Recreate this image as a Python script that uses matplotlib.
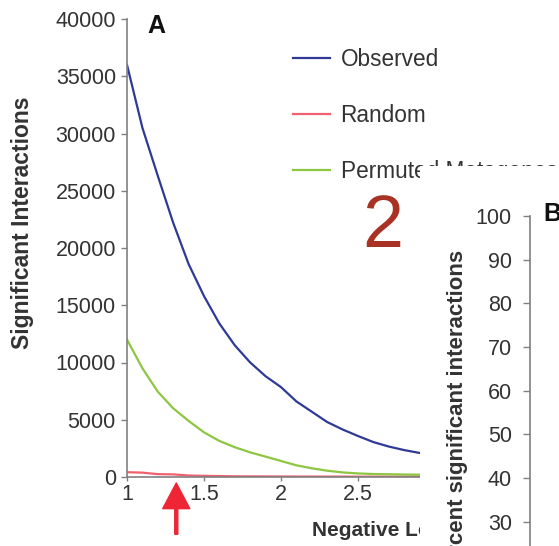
import matplotlib
matplotlib.use("Agg")
import matplotlib.pyplot as plt
from matplotlib.patches import Rectangle

plt.rcParams['font.family'] = ['Liberation Sans', 'DejaVu Sans']

W, H = 559, 546

# panel A: significant interactions vs negative log p
neg_log_p = [1.0, 1.1, 1.2, 1.3, 1.4, 1.5, 1.6, 1.7, 1.8, 1.9, 2.0,
             2.1, 2.2, 2.3, 2.4, 2.5, 2.6, 2.7, 2.8, 2.9, 3.0]
observed = [36000, 30500, 26300, 22200, 18600, 15800, 13400, 11500, 10000, 8800, 7850,
            6600, 5700, 4800, 4150, 3580, 3050, 2660, 2350, 2100, 1900]
random_ = [420, 380, 250, 230, 130, 100, 80, 60, 55, 50, 45,
           40, 40, 35, 35, 30, 30, 30, 30, 30, 30]
permuted = [12000, 9500, 7450, 6000, 4900, 3900, 3150, 2600, 2150, 1780, 1400,
            1020, 760, 550, 400, 310, 260, 240, 220, 200, 190]

a_yticks = list(range(0, 40001, 5000))
a_xticks = [1, 1.5, 2, 2.5]
a_xticklabels = ['1', '1.5', '2', '2.5']
b_yticks = list(range(0, 101, 10))

arrow_x = 1.32

BLUE = '#2e3a96'
RED = '#f0606e'
GREEN = '#8dc640'
SPINE = '#808080'
TXT = '#333333'


def fx(px):
    return px / W


def fy(py):
    return 1 - py / H


fig = plt.figure(figsize=(W / 100, H / 100), dpi=100)

# ---- panel A
axA = fig.add_axes([fx(127), fy(477), (435 - 127) / W, (477 - 19) / H])
axA.plot(neg_log_p, observed, color=BLUE, lw=1.6, label='Observed')
axA.plot(neg_log_p, random_, color=RED, lw=1.6, label='Random')
axA.plot(neg_log_p, permuted, color=GREEN, lw=1.6, label='Permuted Metagenes')
axA.set_xlim(1, 3)
axA.set_ylim(0, 40000)
axA.set_yticks(a_yticks)
axA.set_yticklabels([str(v) for v in a_yticks])
axA.set_xticks(a_xticks)
axA.set_xticklabels(a_xticklabels)
for s in ['top', 'right']:
    axA.spines[s].set_visible(False)
for s in ['left', 'bottom']:
    axA.spines[s].set_color(SPINE)
    axA.spines[s].set_linewidth(1.2)
axA.tick_params(axis='y', length=4.5, width=1, color=SPINE, pad=3.5,
                labelsize=15.5, labelcolor=TXT)
axA.tick_params(axis='x', length=3, width=1, color=SPINE, pad=2,
                labelsize=15.5, labelcolor=TXT)
fig.text(fx(23), fy(223), 'Significant Interactions', rotation=90,
         fontsize=16.5, fontweight='bold', color=TXT, ha='center', va='center')

# x label, only its start shows left of panel B
clip = Rectangle((0, 0), fx(420), 1, transform=fig.transFigure)
xl = fig.text(fx(312), fy(530), 'Negative Log P', fontsize=15,
              fontweight='bold', color=TXT, ha='left', va='center')
xl.set_clip_path(clip)

fig.text(fx(147), fy(26), 'A', fontsize=18, fontweight='bold', color='#111111',
         ha='left', va='center')

leg = axA.legend(loc='upper left', bbox_to_anchor=(fx(293), fy(48)),
                 bbox_transform=fig.transFigure, frameon=False, fontsize=16.3,
                 handlelength=1.65, handletextpad=0.45, labelspacing=1.45,
                 borderpad=0, borderaxespad=0)
for t in leg.get_texts():
    t.set_color(TXT)

axA.annotate('', xy=(arrow_x, -0.013), xytext=(arrow_x, -0.125),
             xycoords=('data', 'axes fraction'),
             textcoords=('data', 'axes fraction'),
             arrowprops=dict(width=2.2, headwidth=19.5, headlength=18.5,
                             color='#ee2535', shrink=0),
             annotation_clip=False)

# white cover where panel B overlaps panel A
fig.add_artist(Rectangle((fx(420), 0), (W - 420) / W, fy(166),
                         transform=fig.transFigure, facecolor='white',
                         edgecolor='none', zorder=1))

# ---- panel B
axB = fig.add_axes([fx(530), fy(653), 0.3, (653 - 216) / H], zorder=2)
axB.patch.set_visible(False)
axB.set_ylim(0, 100)
axB.set_yticks(b_yticks)
axB.set_xticks([])
for s in ['top', 'right', 'bottom']:
    axB.spines[s].set_visible(False)
axB.spines['left'].set_color(SPINE)
axB.spines['left'].set_linewidth(1.2)
axB.tick_params(axis='y', length=5, width=1, color=SPINE, pad=8,
                labelsize=15.5, labelcolor=TXT)
fig.text(fx(458), fy(250), 'Percent significant interactions', rotation=90,
         fontsize=16, fontweight='bold', color=TXT, ha='center', va='top',
         zorder=3)
fig.text(fx(543), fy(214), 'B', fontsize=18, fontweight='bold', color='#111111',
         ha='left', va='center', zorder=3)

# big annotation
fig.text(fx(383), fy(227), '2', fontsize=53, color='#a83224',
         ha='center', va='center', zorder=4)

fig.savefig('out.png', dpi=100)
